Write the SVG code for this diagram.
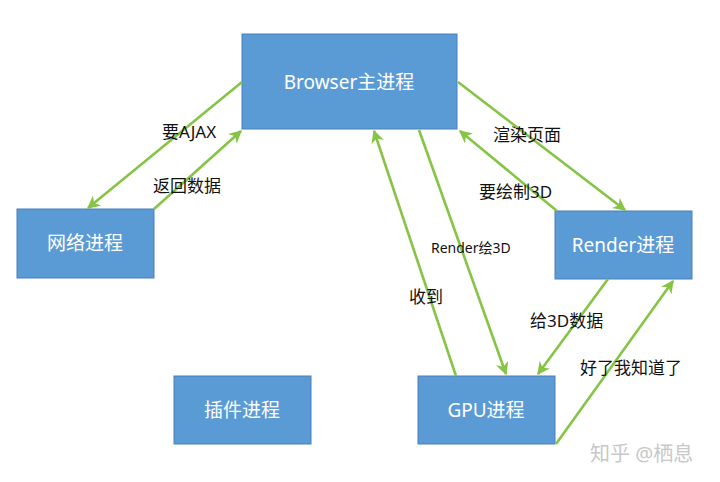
<svg xmlns="http://www.w3.org/2000/svg" width="720" height="482" viewBox="0 0 720 482">
<style>
.box{fill:#5B9BD5;stroke:#4A7EBB;stroke-width:1}
.nt{fill:#FFFFFF;font-family:"Noto Sans","Noto Sans CJK SC",sans-serif;font-size:19px;text-anchor:middle;dominant-baseline:central}
.el{fill:#111111;font-family:"Noto Sans","Noto Sans CJK SC",sans-serif;font-size:17px;dominant-baseline:central}
.cn{stroke:#85C444;stroke-width:2.6;fill:none;marker-end:url(#ah)}
</style>
<defs>
<marker id="ah" viewBox="0 0 10 10" refX="9" refY="5" markerWidth="5" markerHeight="5" orient="auto" markerUnits="strokeWidth">
<path d="M0,0 L10,5 L0,10 L3,5 Z" fill="#85C444"/>
</marker>
</defs>
<rect width="720" height="482" fill="#FFFFFF"/>
<g id="browser"><rect class="box" x="242" y="34" width="215" height="95"/><text class="nt" x="349" y="82">Browser主进程</text></g>
<g id="network"><rect class="box" x="17" y="209" width="137" height="69"/><text class="nt" x="85" y="243">网络进程</text></g>
<g id="render"><rect class="box" x="555" y="211" width="137" height="68"/><text class="nt" x="623" y="245">Render进程</text></g>
<g id="plugin"><rect class="box" x="174" y="376" width="137" height="68"/><text class="nt" x="242" y="410">插件进程</text></g>
<g id="gpu"><rect class="box" x="418" y="376" width="137" height="68"/><text class="nt" x="486" y="410">GPU进程</text></g>
<g id="connectors">
<line class="cn" x1="242" y1="82" x2="88" y2="208"/>
<line class="cn" x1="154" y1="209" x2="241" y2="131"/>
<line class="cn" x1="458" y1="82" x2="625" y2="210"/>
<line class="cn" x1="557" y1="211" x2="460" y2="131"/>
<line class="cn" x1="456" y1="376" x2="374" y2="131"/>
<line class="cn" x1="419" y1="130" x2="506" y2="374"/>
<line class="cn" x1="608" y1="279" x2="538" y2="374"/>
<line class="cn" x1="556" y1="444" x2="673" y2="281"/>
</g>
<g id="labels">
<text class="el" x="162" y="131">要AJAX</text>
<text class="el" x="153" y="185">返回数据</text>
<text class="el" x="493" y="134">渲染页面</text>
<text class="el" x="479" y="191">要绘制3D</text>
<text class="el" x="431" y="247" style="font-size:14px">Render绘3D</text>
<text class="el" x="409" y="296">收到</text>
<text class="el" x="530" y="320">给3D数据</text>
<text class="el" x="580" y="367">好了我知道了</text>
<text x="590" y="453" style="fill:#C8C8C8;font-family:'Noto Sans','Noto Sans CJK SC',sans-serif;font-size:20px;dominant-baseline:central">知乎 @栖息</text>
</g>
</svg>
